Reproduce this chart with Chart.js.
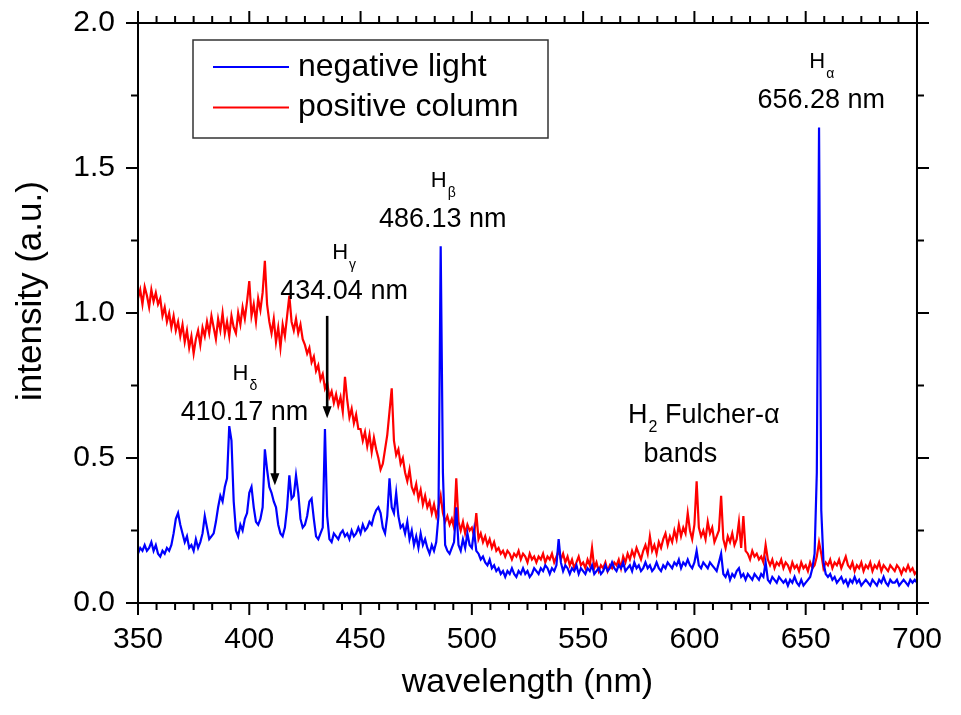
<!DOCTYPE html>
<html>
<head>
<meta charset="utf-8">
<script src="https://cdn.jsdelivr.net/npm/chart.js@4/dist/chart.umd.min.js"></script>
<style>
  html, body { margin: 0; padding: 0; background: #fff; }
  #wrap { width: 961px; height: 715px; }
</style>
</head>
<body>
<div id="wrap"><canvas id="spectrum" width="961" height="715"></canvas></div>
<script>
// Emission spectra of a hydrogen glow discharge, sampled every 1 nm from 350 nm to 700 nm
const wavelengthStart = 350;
const wavelengthStep = 1;

// negative light (blue)
const negativeLight = [
  0.17, 0.19, 0.18, 0.20, 0.18, 0.19, 0.21, 0.18, 0.20, 0.17,
  0.16, 0.18, 0.17, 0.19, 0.18, 0.20, 0.24, 0.29, 0.31, 0.27,
  0.24, 0.21, 0.23, 0.19, 0.20, 0.18, 0.22, 0.19, 0.21, 0.24,
  0.30, 0.26, 0.22, 0.23, 0.24, 0.28, 0.33, 0.37, 0.35, 0.40,
  0.43, 0.61, 0.56, 0.35, 0.25, 0.23, 0.27, 0.25, 0.29, 0.31,
  0.38, 0.40, 0.33, 0.28, 0.27, 0.29, 0.33, 0.53, 0.46, 0.40,
  0.38, 0.35, 0.33, 0.27, 0.24, 0.23, 0.26, 0.33, 0.44, 0.36,
  0.37, 0.44, 0.38, 0.29, 0.26, 0.27, 0.30, 0.35, 0.36, 0.29,
  0.23, 0.22, 0.24, 0.26, 0.60, 0.30, 0.22, 0.21, 0.24, 0.23,
  0.22, 0.24, 0.25, 0.23, 0.24, 0.22, 0.25, 0.23, 0.24, 0.26,
  0.24, 0.27, 0.25, 0.26, 0.28, 0.27, 0.30, 0.32, 0.33, 0.31,
  0.26, 0.24, 0.30, 0.43, 0.33, 0.31, 0.38, 0.30, 0.26, 0.27,
  0.24, 0.28, 0.22, 0.25, 0.20, 0.23, 0.19, 0.24, 0.20, 0.22,
  0.19, 0.17, 0.20, 0.18, 0.21, 0.30, 1.23, 0.45, 0.20, 0.18,
  0.17, 0.19, 0.21, 0.33, 0.20, 0.18, 0.22, 0.19, 0.24, 0.20,
  0.19, 0.25, 0.18, 0.17, 0.15, 0.16, 0.14, 0.13, 0.15, 0.12,
  0.13, 0.11, 0.12, 0.10, 0.11, 0.09, 0.11, 0.10, 0.12, 0.10,
  0.09, 0.11, 0.10, 0.12, 0.10, 0.11, 0.09, 0.10, 0.12, 0.11,
  0.10, 0.12, 0.11, 0.13, 0.12, 0.10, 0.12, 0.11, 0.13, 0.22,
  0.14, 0.11, 0.13, 0.12, 0.10, 0.12, 0.11, 0.13, 0.10, 0.12,
  0.11, 0.10, 0.12, 0.11, 0.13, 0.10, 0.11, 0.12, 0.10, 0.11,
  0.13, 0.11, 0.12, 0.14, 0.12, 0.11, 0.13, 0.12, 0.14, 0.11,
  0.12, 0.13, 0.11, 0.14, 0.12, 0.13, 0.11, 0.12, 0.14, 0.12,
  0.13, 0.11, 0.12, 0.14, 0.12, 0.11, 0.13, 0.12, 0.14, 0.13,
  0.12, 0.14, 0.13, 0.15, 0.12, 0.14, 0.13, 0.15, 0.13, 0.12,
  0.14, 0.18, 0.13, 0.12, 0.14, 0.13, 0.12, 0.14, 0.13, 0.12,
  0.11, 0.14, 0.17, 0.10, 0.09, 0.11, 0.08, 0.10, 0.09, 0.11,
  0.12, 0.09, 0.10, 0.08, 0.10, 0.09, 0.08, 0.10, 0.09, 0.08,
  0.10, 0.09, 0.14, 0.08, 0.07, 0.09, 0.08, 0.07, 0.09, 0.08,
  0.07, 0.08, 0.06, 0.08, 0.07, 0.09, 0.07, 0.06, 0.08, 0.06,
  0.07, 0.08, 0.09, 0.12, 0.17, 0.45, 1.64, 0.32, 0.14, 0.10,
  0.09, 0.10, 0.08, 0.09, 0.07, 0.08, 0.09, 0.07, 0.08, 0.06,
  0.08, 0.07, 0.09, 0.07, 0.08, 0.06, 0.07, 0.08, 0.07, 0.06,
  0.08, 0.07, 0.06, 0.08, 0.07, 0.09, 0.07, 0.06, 0.08, 0.07,
  0.07, 0.08, 0.06, 0.07, 0.08, 0.07, 0.06, 0.08, 0.07, 0.08,
  0.07
];

// positive column (red)
const positiveColumn = [
  1.05, 1.08, 1.03, 1.09, 1.06, 1.02, 1.08, 1.04, 1.07, 1.03,
  1.05, 0.99, 1.02, 0.97, 1.00, 0.95, 0.99, 0.94, 0.97, 0.92,
  0.96, 0.90, 0.94, 0.88, 0.92, 0.86, 0.91, 0.94, 0.89, 0.95,
  0.92, 0.97, 0.93, 0.99, 0.95, 0.91, 0.98, 0.94, 1.00, 0.93,
  0.97, 0.92, 0.99, 0.95, 0.93, 1.00, 0.96, 1.02, 0.98, 1.04,
  1.11, 0.99, 1.03, 0.97, 1.05, 1.01, 1.07, 1.18, 1.03, 0.97,
  0.93, 0.98, 0.90, 0.95, 0.88, 0.96, 0.92, 0.99, 1.06, 0.97,
  0.94, 0.98, 0.93, 0.96, 0.91, 0.89, 0.86, 0.88, 0.83, 0.85,
  0.80, 0.82, 0.77, 0.79, 0.74, 0.76, 0.71, 0.73, 0.69, 0.72,
  0.68, 0.71, 0.66, 0.78, 0.70, 0.64, 0.67, 0.62, 0.65, 0.60,
  0.60, 0.56, 0.59, 0.54, 0.58, 0.52, 0.57, 0.53, 0.50, 0.46,
  0.48, 0.53, 0.58, 0.66, 0.74, 0.56, 0.51, 0.53, 0.48, 0.50,
  0.45, 0.42, 0.46, 0.40, 0.38, 0.41, 0.36, 0.39, 0.34, 0.37,
  0.33, 0.35, 0.31, 0.34, 0.30, 0.33, 0.37, 0.31, 0.28, 0.30,
  0.27, 0.29, 0.26, 0.43, 0.28, 0.25, 0.28, 0.24, 0.27, 0.25,
  0.26, 0.23, 0.31, 0.22, 0.24, 0.21, 0.23, 0.20, 0.22, 0.19,
  0.21, 0.18, 0.19, 0.17, 0.18, 0.16, 0.18, 0.17, 0.15, 0.17,
  0.16, 0.18, 0.15, 0.17, 0.16, 0.14, 0.17, 0.15, 0.16, 0.14,
  0.16, 0.15, 0.17, 0.14, 0.16, 0.15, 0.17, 0.14, 0.16, 0.18,
  0.15, 0.17, 0.14, 0.16, 0.13, 0.15, 0.12, 0.14, 0.16, 0.13,
  0.14, 0.12, 0.15, 0.13, 0.19, 0.12, 0.14, 0.11, 0.13, 0.12,
  0.14, 0.11, 0.13, 0.12, 0.14, 0.13, 0.15, 0.12, 0.16, 0.14,
  0.17, 0.15, 0.18, 0.16, 0.19, 0.17, 0.15, 0.18, 0.20, 0.17,
  0.23, 0.18, 0.20, 0.17, 0.21, 0.19, 0.22, 0.24, 0.20, 0.23,
  0.21, 0.25, 0.22, 0.27, 0.23, 0.26, 0.24, 0.31, 0.25, 0.22,
  0.27, 0.42, 0.26, 0.23, 0.25, 0.22, 0.28, 0.24, 0.26, 0.21,
  0.23, 0.25, 0.37, 0.22, 0.19, 0.23, 0.21, 0.24, 0.20, 0.22,
  0.28, 0.19, 0.30, 0.18, 0.17, 0.15, 0.18, 0.16, 0.17, 0.15,
  0.16, 0.14, 0.20, 0.15, 0.13, 0.15, 0.12, 0.14, 0.13, 0.15,
  0.12, 0.14, 0.13, 0.11, 0.14, 0.12, 0.13, 0.11, 0.14, 0.12,
  0.13, 0.11, 0.14, 0.12, 0.13, 0.16, 0.21, 0.17, 0.12, 0.14,
  0.13, 0.15, 0.12, 0.14, 0.13, 0.15, 0.12, 0.14, 0.16, 0.13,
  0.12, 0.14, 0.11, 0.13, 0.12, 0.14, 0.11, 0.13, 0.12, 0.14,
  0.11, 0.13, 0.12, 0.14, 0.11, 0.13, 0.12, 0.11, 0.13, 0.12,
  0.11, 0.13, 0.12, 0.10, 0.12, 0.11, 0.13, 0.11, 0.12, 0.10,
  0.11
];

const seriesNames = ['negative light', 'positive column'];
const xTickValues = [350, 400, 450, 500, 550, 600, 650, 700];
const yTickValues = [0.0, 0.5, 1.0, 1.5, 2.0];

// Balmer line labels: subscript letter, wavelength text, anchor (nm, intensity) of the text baseline
const lineLabels = [
  { sub: 'α', text: '656.28 nm', wl: 657.0, at: 1.706 },
  { sub: 'β', text: '486.13 nm', wl: 486.9, at: 1.295 },
  { sub: 'γ', text: '434.04 nm', wl: 442.6, at: 1.050 },
  { sub: 'δ', text: '410.17 nm', wl: 397.85, at: 0.630 }
];
// arrows pointing at the weak lines: wavelength, start and tip intensity
const lineArrows = [
  { wl: 435.0, from: 0.99, to: 0.637 },
  { wl: 411.5, from: 0.607, to: 0.406 }
];

const FONT = "'Liberation Sans', Arial, Helvetica, sans-serif";

function toPoints(values) {
  return values.map((v, i) => ({ x: wavelengthStart + i * wavelengthStep, y: v }));
}

// axis frame, outward ticks on all four sides, arrows, labels and the boxed legend
const decorations = {
  id: 'decorations',
  afterDatasetsDraw(chart) {
    const { ctx, chartArea: a, scales: { x, y } } = chart;
    ctx.save();
    ctx.strokeStyle = '#000';
    ctx.fillStyle = '#000';
    ctx.lineWidth = 2;
    ctx.lineCap = 'butt';
    const seg = (x1, y1, x2, y2) => { ctx.beginPath(); ctx.moveTo(x1, y1); ctx.lineTo(x2, y2); ctx.stroke(); };

    ctx.strokeRect(a.left, a.top, a.right - a.left, a.bottom - a.top);

    const MAJ = 12, MIN = 7;
    const xMinor = [];
    for (let i = 0; i < xTickValues.length - 1; i++) {
      for (let j = 1; j < 6; j++) xMinor.push(xTickValues[i] + (xTickValues[i + 1] - xTickValues[i]) * j / 6);
    }
    const yMinor = [];
    for (let i = 0; i < yTickValues.length - 1; i++) yMinor.push((yTickValues[i] + yTickValues[i + 1]) / 2);

    xTickValues.forEach(v => { const p = x.getPixelForValue(v); seg(p, a.bottom, p, a.bottom + MAJ); seg(p, a.top, p, a.top - MAJ); });
    xMinor.forEach(v => { const p = x.getPixelForValue(v); seg(p, a.bottom, p, a.bottom + MIN); seg(p, a.top, p, a.top - MIN); });
    yTickValues.forEach(v => { const p = y.getPixelForValue(v); seg(a.left, p, a.left - MAJ, p); seg(a.right, p, a.right + MAJ, p); });
    yMinor.forEach(v => { const p = y.getPixelForValue(v); seg(a.left, p, a.left - MIN, p); seg(a.right, p, a.right + MIN, p); });

    // arrows
    ctx.lineWidth = 2.6;
    lineArrows.forEach(ar => {
      const px = x.getPixelForValue(ar.wl);
      const y0 = y.getPixelForValue(ar.from);
      const y1 = y.getPixelForValue(ar.to);
      seg(px, y0, px, y1 - 10);
      ctx.beginPath();
      ctx.moveTo(px - 4.5, y1 - 12);
      ctx.lineTo(px + 4.5, y1 - 12);
      ctx.lineTo(px, y1);
      ctx.closePath();
      ctx.fill();
    });

    // Balmer line labels
    ctx.textBaseline = 'alphabetic';
    lineLabels.forEach(l => {
      const px = x.getPixelForValue(l.wl);
      const py = y.getPixelForValue(l.at);
      ctx.font = `27px ${FONT}`;
      ctx.textAlign = 'center';
      ctx.fillText(l.text, px, py);
      ctx.font = `22px ${FONT}`;
      ctx.fillText('H', px - 4, py - 40);
      ctx.font = `14px ${FONT}`;
      ctx.textAlign = 'left';
      ctx.fillText(l.sub, px + 5, py - 30);
    });

    // molecular band label
    {
      const px = x.getPixelForValue(570.2);
      const py = y.getPixelForValue(0.62);
      ctx.textAlign = 'left';
      ctx.font = `27px ${FONT}`;
      ctx.fillText('H', px, py);
      let cx = px + ctx.measureText('H').width + 1;
      ctx.font = `16px ${FONT}`;
      ctx.fillText('2', cx, py + 9);
      cx += ctx.measureText('2').width;
      ctx.font = `27px ${FONT}`;
      ctx.fillText(' Fulcher-α', cx, py);
      ctx.textAlign = 'center';
      ctx.fillText('bands', x.getPixelForValue(593.7), y.getPixelForValue(0.485));
    }

    // legend box
    {
      const bx = a.left + 55, by = a.top + 17, bw = 355, bh = 98;
      ctx.lineWidth = 1.5;
      ctx.strokeStyle = '#333';
      ctx.strokeRect(bx, by, bw, bh);
      chart.data.datasets.forEach((ds, i) => {
        const ly = by + 27 + i * 40.5;
        ctx.strokeStyle = ds.borderColor;
        ctx.lineWidth = 2;
        seg(bx + 20, ly, bx + 96, ly);
        ctx.fillStyle = '#000';
        ctx.font = `32px ${FONT}`;
        ctx.textAlign = 'left';
        ctx.textBaseline = 'middle';
        ctx.fillText(ds.label, bx + 105, ly);
      });
    }

    // y-axis title
    ctx.save();
    ctx.translate(31, 291);
    ctx.rotate(-Math.PI / 2);
    ctx.font = `35px ${FONT}`;
    ctx.fillStyle = '#000';
    ctx.textAlign = 'center';
    ctx.textBaseline = 'middle';
    ctx.fillText('intensity (a.u.)', 0, 0);
    ctx.restore();

    ctx.restore();
  }
};

new Chart(document.getElementById('spectrum'), {
  type: 'line',
  data: {
    datasets: [
      { label: seriesNames[0], data: toPoints(negativeLight), borderColor: '#0000ff', borderWidth: 2.2,
        pointRadius: 0, tension: 0, fill: false },
      { label: seriesNames[1], data: toPoints(positiveColumn), borderColor: '#ff0000', borderWidth: 2.2,
        pointRadius: 0, tension: 0, fill: false }
    ]
  },
  options: {
    responsive: false,
    animation: false,
    devicePixelRatio: 1,
    layout: { padding: { top: 23, right: 33, left: 0, bottom: 0 } },
    plugins: { legend: { display: false }, tooltip: { enabled: false } },
    scales: {
      x: {
        type: 'linear', position: 'bottom', min: 350, max: 700,
        afterBuildTicks: s => { s.ticks = xTickValues.map(v => ({ value: v })); },
        afterFit: s => { s.height = 112; },
        ticks: { color: '#000', font: { family: FONT, size: 30 }, padding: 19, maxRotation: 0, autoSkip: false },
        grid: { display: false, drawTicks: false },
        border: { display: false },
        title: { display: true, text: 'wavelength (nm)', color: '#000', font: { family: FONT, size: 34 },
                 padding: { top: 0, bottom: 12 } }
      },
      y: {
        type: 'linear', min: 0, max: 2,
        afterBuildTicks: s => { s.ticks = yTickValues.map(v => ({ value: v })); },
        afterFit: s => { s.width = 138; s.paddingTop = 0; s.paddingBottom = 0; },
        ticks: { color: '#000', font: { family: FONT, size: 30 }, padding: 23, callback: v => v.toFixed(1) },
        grid: { display: false, drawTicks: false },
        border: { display: false }
      }
    }
  },
  plugins: [decorations]
});
</script>
</body>
</html>
